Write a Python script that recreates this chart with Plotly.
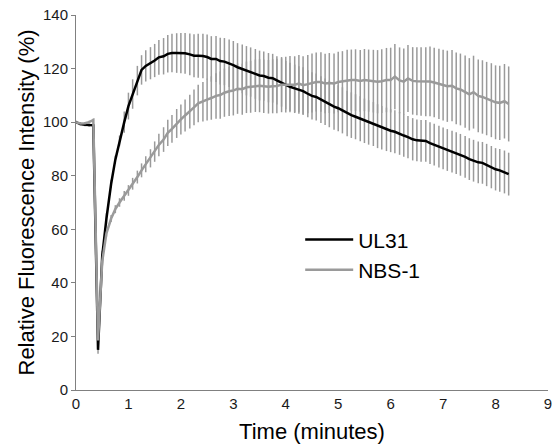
import plotly.graph_objects as go

# Time points (minutes), one every 5 s
time_min = [
    0.00, 0.08, 0.17, 0.25, 0.33, 0.42, 0.50, 0.58, 0.67, 0.75, 0.83, 0.92,
    1.00, 1.08, 1.17, 1.25, 1.33, 1.42, 1.50, 1.58, 1.67, 1.75, 1.83, 1.92,
    2.00, 2.08, 2.17, 2.25, 2.33, 2.42, 2.50, 2.58, 2.67, 2.75, 2.83, 2.92,
    3.00, 3.08, 3.17, 3.25, 3.33, 3.42, 3.50, 3.58, 3.67, 3.75, 3.83, 3.92,
    4.00, 4.08, 4.17, 4.25, 4.33, 4.42, 4.50, 4.58, 4.67, 4.75, 4.83, 4.92,
    5.00, 5.08, 5.17, 5.25, 5.33, 5.42, 5.50, 5.58, 5.67, 5.75, 5.83, 5.92,
    6.00, 6.08, 6.17, 6.25, 6.33, 6.42, 6.50, 6.58, 6.67, 6.75, 6.83, 6.92,
    7.00, 7.08, 7.17, 7.25, 7.33, 7.42, 7.50, 7.58, 7.67, 7.75, 7.83, 7.92,
    8.00, 8.08, 8.17, 8.25,
]

ul31 = [
    100.0, 99.3, 99.0, 98.8, 98.8, 15.0, 50.0, 64.0, 77.0, 86.0, 93.0, 100.0,
    106.0, 110.5, 115.5, 119.5, 121.0, 122.0, 123.0, 124.2, 124.6, 125.5, 125.8, 125.8,
    125.8, 125.7, 125.3, 124.8, 124.8, 124.7, 124.3, 123.6, 123.6, 122.8, 122.6, 122.0,
    121.3, 120.5, 119.9, 119.2, 118.7, 118.0, 117.4, 117.2, 116.6, 116.4, 115.6, 114.8,
    113.8, 113.2, 112.6, 112.0, 111.6, 110.6, 109.8, 109.4, 108.4, 107.6, 106.8, 105.8,
    105.2, 104.4, 103.2, 102.6, 102.0, 101.3, 100.5, 99.9, 99.3, 98.5, 97.9, 97.3,
    96.8, 96.4, 95.8, 95.0, 94.4, 93.6, 93.2, 93.0, 93.0, 92.2, 91.6, 90.9,
    90.2, 89.6, 89.0, 88.4, 87.8, 87.0, 86.2, 85.6, 85.0, 84.8, 84.0, 83.2,
    82.4, 82.0, 81.4, 80.6,
]
ul31_err = [
    0.5, 0.5, 0.5, 0.5, 0.5, 1.5, 2.0, 2.0, 1.5, 1.5, 2.0, 4.0,
    5.0, 5.5, 5.5, 5.5, 5.8, 6.0, 6.2, 6.5, 6.8, 7.0, 7.2, 7.4,
    7.5, 7.6, 7.8, 8.0, 8.2, 8.3, 8.4, 8.5, 8.6, 8.7, 8.8, 8.9,
    9.0, 9.0, 9.1, 9.2, 9.2, 9.3, 9.3, 9.2, 9.2, 9.1, 9.0, 9.0,
    9.0, 9.0, 8.9, 8.9, 8.9, 8.8, 8.8, 8.8, 8.7, 8.7, 8.7, 8.6,
    8.6, 8.6, 8.5, 8.5, 8.4, 8.4, 8.3, 8.3, 8.2, 8.2, 8.1, 8.1,
    8.0, 8.0, 8.0, 7.9, 7.9, 7.9, 7.8, 7.8, 7.8, 7.8, 7.8, 7.8,
    7.8, 7.8, 7.8, 7.8, 7.8, 7.8, 7.8, 7.8, 7.8, 7.8, 7.9, 7.9,
    7.9, 8.0, 8.0, 8.0,
]

nbs1 = [
    100.0, 99.5, 99.6, 100.0, 100.8, 18.5, 48.0, 58.5, 64.0, 67.5, 70.0, 72.5,
    74.5, 77.0, 79.5, 82.0, 84.3, 86.5, 89.0, 91.5, 93.5, 96.0, 97.5, 99.5,
    101.0, 102.5, 103.9, 105.5, 107.0, 107.6, 108.4, 109.0, 109.8, 110.1, 111.0, 111.5,
    111.8, 112.5, 112.3, 113.0, 113.2, 113.6, 113.6, 113.4, 113.2, 113.4, 113.5, 114.0,
    114.0, 114.2, 114.0, 114.4, 113.8, 114.2, 114.6, 115.0, 115.0, 114.4, 114.6, 114.4,
    115.0, 115.2, 115.6, 115.7, 115.7, 115.4, 115.7, 115.5, 115.3, 115.1, 115.3, 115.7,
    115.7, 117.0, 115.6, 115.1, 116.3, 115.4, 115.3, 115.2, 115.1, 115.2, 114.8, 114.3,
    113.8, 113.4, 113.6, 112.6, 112.2, 111.4, 110.4, 111.2, 109.8, 109.4, 108.8, 108.2,
    107.4, 107.2, 107.8, 106.8,
]
nbs1_err = [
    0.5, 0.5, 0.5, 0.5, 0.5, 1.0, 1.0, 1.2, 1.3, 1.5, 1.6, 1.8,
    2.0, 2.2, 2.4, 2.6, 3.0, 3.4, 3.8, 4.2, 4.6, 4.9, 5.2, 5.4,
    5.6, 6.0, 6.3, 6.7, 7.0, 7.4, 7.8, 8.1, 8.5, 8.8, 9.0, 9.2,
    9.3, 9.4, 9.5, 9.6, 9.7, 9.8, 9.9, 10.0, 10.0, 10.1, 10.2, 10.3,
    10.4, 10.5, 10.6, 10.7, 10.8, 10.9, 11.0, 11.0, 11.1, 11.1, 11.2, 11.2,
    11.3, 11.3, 11.4, 11.4, 11.5, 11.5, 11.6, 11.6, 11.7, 11.8, 11.9, 12.0,
    12.1, 12.2, 12.3, 12.4, 12.5, 12.6, 12.7, 12.8, 12.9, 13.0, 13.0, 13.1,
    13.2, 13.3, 13.3, 13.4, 13.4, 13.5, 13.5, 13.6, 13.6, 13.7, 13.7, 13.8,
    13.8, 13.9, 13.9, 14.0,
]

series_names = ["UL31", "NBS-1"]

BAR = "#9a9a9a"
FONT = "Liberation Sans, Arial, sans-serif"

fig = go.Figure()

# error bars (drawn beneath the lines)
for vals, errs in [(ul31, ul31_err), (nbs1, nbs1_err)]:
    fig.add_trace(go.Scatter(
        x=time_min, y=vals, mode="markers",
        marker=dict(size=1, color="rgba(0,0,0,0)"),
        error_y=dict(type="data", array=errs, visible=True,
                     color=BAR, thickness=1.5, width=0),
        showlegend=False, hoverinfo="skip",
    ))

fig.add_trace(go.Scatter(
    x=time_min, y=ul31, mode="lines", name=series_names[0],
    line=dict(color="#000000", width=2.5),
))
fig.add_trace(go.Scatter(
    x=time_min, y=nbs1, mode="lines", name=series_names[1],
    line=dict(color="#9a9a9a", width=2.5),
))

fig.update_layout(
    width=553, height=446,
    margin=dict(l=76, r=5, t=15, b=56),
    paper_bgcolor="white", plot_bgcolor="white",
    font=dict(family=FONT, color="#1a1a1a"),
    showlegend=True,
    legend=dict(x=0.475, y=0.455, xanchor="left", yanchor="top",
                font=dict(size=21, family=FONT, color="#000"),
                bgcolor="rgba(0,0,0,0)", itemwidth=48),
    xaxis=dict(range=[0, 9], dtick=1, tick0=0, showgrid=False, zeroline=False,
               showline=True, linecolor="#808080", linewidth=1, automargin=False,
               ticklabeloverflow="allow",
               ticks="", tickfont=dict(size=15, family=FONT, color="#1a1a1a"),
               title=dict(text="Time (minutes)", font=dict(size=22, family=FONT, color="#000"),
                          standoff=12)),
    yaxis=dict(range=[0, 140], dtick=20, tick0=0, showgrid=False, zeroline=False,
               showline=True, linecolor="#808080", linewidth=1, automargin=False,
               ticklabeloverflow="allow",
               ticks="outside", ticklen=4, tickcolor="#808080",
               tickfont=dict(size=15, family=FONT, color="#1a1a1a"),
               title=dict(text="Relative Fluorescence Intensity (%)",
                          font=dict(size=22, family=FONT, color="#000"), standoff=2)),
)

# remove the browser's default body margin so the figure fills the window exactly
fig.write_html(
    "out.html",
    config={"displayModeBar": False},
    post_script="document.body.style.margin='0';document.body.style.overflow='hidden';"
                "document.documentElement.style.overflow='hidden';",
)
